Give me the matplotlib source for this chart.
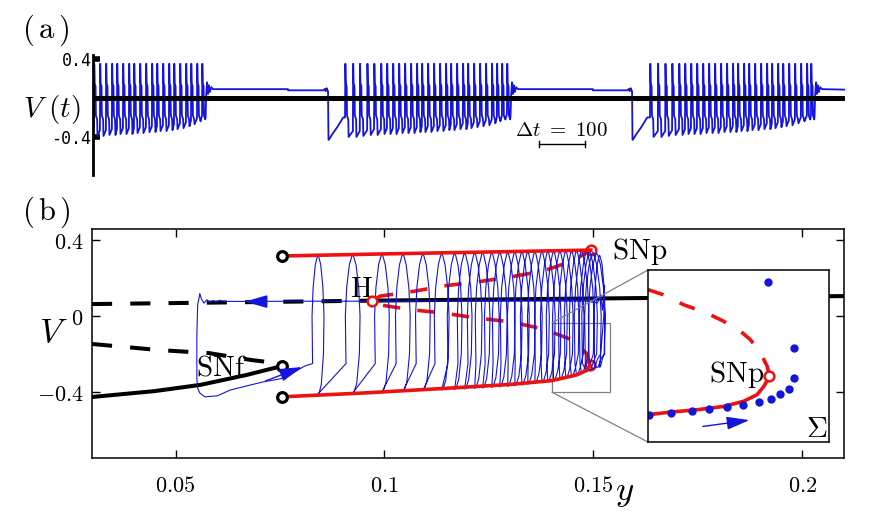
import numpy as np
import matplotlib.pyplot as plt
from mpl_toolkits.axes_grid1.inset_locator import mark_inset

plt.rcParams['mathtext.fontset'] = 'cm'
plt.rcParams['font.family'] = 'DejaVu Serif'

blue = '#1414dc'
red = '#ee1111'

# ---------------- (a) V(t): spike times and troughs of the three bursts
burst1_t = [2, 15, 28, 41, 52, 65, 78, 89, 102, 115, 128, 139, 152, 165, 176,
            189, 202, 213, 226, 237]
burst1_trough = [-0.39, -0.39, -0.38, -0.38, -0.37, -0.37, -0.37, -0.36, -0.36,
                 -0.35, -0.35, -0.34, -0.34, -0.33, -0.32, -0.31, -0.29, -0.27,
                 -0.24, -0.20]
burst2_t = [548, 565, 580, 596, 611, 626, 639, 652, 665, 678, 691, 704, 715, 728,
            741, 754, 767, 778, 791, 804, 815, 828, 841, 854, 867, 878, 889, 900]
burst3_t = [1211, 1228, 1244, 1259, 1274, 1287, 1300, 1313, 1326, 1339, 1352,
            1365, 1378, 1391, 1402, 1415, 1426, 1439, 1452, 1465, 1476, 1489,
            1500, 1513, 1526, 1539, 1552, 1561]
burst23_trough = [-0.40, -0.40, -0.39, -0.38, -0.38, -0.37, -0.37, -0.37, -0.36,
                  -0.36, -0.36, -0.35, -0.35, -0.35, -0.34, -0.34, -0.33, -0.33,
                  -0.32, -0.32, -0.31, -0.30, -0.29, -0.28, -0.26, -0.24, -0.22,
                  -0.19]
spike_peak_a = 0.35
# damped ringing after the last spike of a burst (offset from last spike)
ring_dt = [9, 11, 13, 15, 17, 20, 24]
ring_v = [0.02, 0.16, 0.04, 0.13, 0.06, 0.11, 0.09]
# quiescent levels, level step time and the drop that starts the next burst
quiet_high, quiet_low = 0.09, 0.078
step_t = [424, 1087]
drop_t = [511, 1172]
pre_dt = [-10, -7, -5, -3, -1]
pre_v = [0.078, 0.092, 0.07, 0.10, 0.075]
rec_dt = [0, 1, 3, 8, 20, 33]
rec_v = [0.07, -0.43, -0.42, -0.38, -0.30, -0.20]
t_end = 1635
scale_start, scale_len = 970, 100

# ---------------- (b) bifurcation diagram
lower_y = [0.030, 0.045, 0.056, 0.067, 0.0755]
lower_v = [-0.426, -0.395, -0.362, -0.31, -0.263]
middle_y = [0.030, 0.046, 0.058, 0.0683, 0.0733, 0.0755]
middle_v = [-0.147, -0.179, -0.195, -0.232, -0.245, -0.263]
upper_unst_y = [0.030, 0.097]
upper_unst_v = [0.063, 0.081]
upper_st_y = [0.097, 0.21]
upper_st_v = [0.081, 0.105]
po_max_y = [0.0755, 0.10, 0.125, 0.1494]
po_max_v = [0.316, 0.327, 0.337, 0.347]
po_min_y = [0.0755, 0.095, 0.115, 0.13, 0.14, 0.146, 0.1485, 0.1492]
po_min_v = [-0.425, -0.405, -0.38, -0.36, -0.34, -0.31, -0.285, -0.26]
upo_y = [0.1492, 0.1485, 0.145, 0.138, 0.130, 0.122, 0.114, 0.107, 0.099,
         0.097, 0.099, 0.107, 0.114, 0.122, 0.130, 0.138, 0.145, 0.1494]
upo_v = [-0.26, -0.20, -0.126, -0.068, -0.03, -0.01, 0.016, 0.032, 0.058,
         0.081, 0.105, 0.13, 0.158, 0.179, 0.205, 0.237, 0.29, 0.347]
black_pts_y = [0.0755, 0.0755, 0.0755]
black_pts_v = [0.316, -0.263, -0.425]
red_pts_y = [0.097, 0.1494, 0.1492]
red_pts_v = [0.081, 0.347, -0.26]

# trajectory: spikes of one burst (centre, peak, trough, loop half-width)
spike_y = [0.0841, 0.0924, 0.0994, 0.1044, 0.1092, 0.1137, 0.1168, 0.1192,
           0.1216, 0.1235, 0.1257, 0.1276, 0.1295, 0.1312, 0.1329, 0.1343,
           0.1360, 0.1377, 0.1391, 0.1405, 0.1420, 0.1434, 0.1448, 0.1460,
           0.1472, 0.1484, 0.1491, 0.1499, 0.1508, 0.1515]
spike_peak_b = [0.320, 0.322, 0.324, 0.326, 0.327, 0.329, 0.330, 0.331, 0.332,
                0.333, 0.334, 0.335, 0.335, 0.336, 0.337, 0.337, 0.338, 0.339,
                0.339, 0.340, 0.340, 0.341, 0.341, 0.342, 0.342, 0.343, 0.340,
                0.335, 0.330, 0.320]
spike_trough_b = [-0.410, -0.405, -0.400, -0.397, -0.393, -0.389, -0.386, -0.384,
                  -0.381, -0.379, -0.376, -0.373, -0.370, -0.367, -0.363, -0.359,
                  -0.355, -0.350, -0.345, -0.340, -0.335, -0.328, -0.320, -0.312,
                  -0.303, -0.293, -0.285, -0.278, -0.272, -0.270]
spike_hw = [0.0013, 0.0016, 0.0016, 0.0016, 0.0016, 0.0016, 0.0016, 0.0016,
            0.0016, 0.0016, 0.0016, 0.0016, 0.0016, 0.0016, 0.0016, 0.0016,
            0.0016, 0.0016, 0.0016, 0.0016, 0.0016, 0.0016, 0.0016, 0.0016,
            0.0016, 0.0016, 0.0017, 0.0018, 0.0018, 0.0012]
# quiescent wiggle, fall and slow passage along the lower branch
quiet_y = [0.0625, 0.0613, 0.0605, 0.0598, 0.059, 0.0582, 0.0575, 0.0568, 0.0562]
quiet_v = [0.077, 0.078, 0.083, 0.072, 0.082, 0.070, 0.086, 0.068, 0.09]
fall_y = [0.0558, 0.0553, 0.0551, 0.0551, 0.0553, 0.0558, 0.057, 0.060, 0.063,
          0.0675, 0.0709, 0.0761, 0.0809]
fall_v = [0.115, 0.06, -0.10, -0.33, -0.38, -0.405, -0.425, -0.42, -0.39,
          -0.365, -0.347, -0.326, -0.263]
exit_y = [0.1525, 0.1527, 0.1522, 0.1518, 0.151, 0.148, 0.13, 0.10, 0.08, 0.07, 0.0625]
exit_v = [0.0, 0.16, 0.03, 0.11, 0.07, 0.079, 0.079, 0.078, 0.078, 0.077, 0.077]

# inset (zoom near lower SNp)
in_dash_y = [0.1400, 0.14116, 0.14271, 0.14451, 0.1458, 0.14709, 0.14786,
             0.14864, 0.14915, 0.14933]
in_dash_v = [-0.0785, -0.089, -0.110, -0.128, -0.145, -0.166, -0.184, -0.212,
             -0.240, -0.261]
in_solid_y = [0.14933, 0.1489, 0.14838, 0.14735, 0.1458, 0.14374, 0.14168, 0.14013]
in_solid_v = [-0.261, -0.2825, -0.300, -0.314, -0.325, -0.332, -0.337, -0.342]
sec_y = [0.14923, 0.15121, 0.15121, 0.15083, 0.15013, 0.14941, 0.14851, 0.1473,
         0.14606, 0.14472, 0.14335, 0.14173, 0.14008]
sec_v = [-0.063, -0.2016, -0.265, -0.2874, -0.2987, -0.3085, -0.3149, -0.3212,
         -0.3261, -0.3311, -0.3353, -0.3395, -0.3437]


# ---------- build V(t)
def add_burst(ts, vs, times, troughs, start_v):
    prev = start_v
    for t0, d in zip(times, troughs):
        ts += [t0, t0 + 0.7, t0 + 1.6, t0 + 3.5, t0 + 4.3, t0 + 7.0, t0 + 7.8]
        vs += [prev, spike_peak_a, 0.15, 0.12, -0.18, -0.22, d]
        prev = d + 0.06
    ts += [times[-1] + dt for dt in ring_dt]
    vs += ring_v


ta, va = [0.0], [-0.30]
add_burst(ta, va, burst1_t, burst1_trough, -0.30)
for bt, st, dr in zip([burst2_t, burst3_t], step_t, drop_t):
    ta += [st, st]
    va += [quiet_high, quiet_low]
    ta += [dr + d for d in pre_dt] + [dr + d for d in rec_dt]
    va += pre_v + rec_v
    add_burst(ta, va, bt, burst23_trough, rec_v[-1])
ta.append(t_end)
va.append(0.085)

fig = plt.figure(figsize=(8.74, 5.23), dpi=100)

axa = fig.add_axes([93 / 874, 1 - 175 / 523, 752 / 874, 120 / 523])
axa.set_xlim(0, t_end)
axa.set_ylim(-0.79, 0.44)
for s in ['top', 'right', 'bottom']:
    axa.spines[s].set_visible(False)
axa.spines['left'].set_linewidth(2)
axa.axhline(0, color='k', lw=3.6, zorder=3)
axa.plot(ta, va, color=blue, lw=1.3, zorder=2)
axa.set_xticks([])
axa.set_yticks([-0.4, 0.4])
axa.set_yticklabels(['-0.4', '0.4'], family='DejaVu Sans Mono', fontsize=12)
axa.tick_params(axis='y', direction='in', length=5, width=4, pad=1)
axa.plot([scale_start, scale_start + scale_len], [-0.47, -0.47], color='k', lw=1)
axa.plot([scale_start, scale_start], [-0.44, -0.50], color='k', lw=1)
axa.plot([scale_start + scale_len] * 2, [-0.44, -0.50], color='k', lw=1)
axa.text(scale_start + scale_len / 2 - 2, -0.33, r'$\Delta t\ =\ 100$',
         ha='center', va='center', fontsize=15)
fig.text(52 / 874, 1 - 110 / 523, r'$V\ (t)$', ha='center', va='center', fontsize=21)
fig.text(45 / 874, 1 - 30 / 523, r'$(\,\mathrm{a}\,)$', ha='center', va='center',
         fontsize=22)

# ---------- (b)
axb = fig.add_axes([92 / 874, 1 - 458 / 523, 752 / 874, 229 / 523])
axb.set_xlim(0.03, 0.21)
axb.set_ylim(-0.747, 0.458)
axb.set_xticks([0.05, 0.1, 0.15, 0.2])
axb.set_xticklabels([r'$0.05$', r'$0.1$', r'$0.15$', r'$0.2$'], fontsize=16)
axb.set_yticks([-0.4, 0, 0.4])
axb.set_yticklabels([r'$-0.4$', r'$0$', r'$0.4$'], fontsize=16)
axb.tick_params(direction='in', top=True, right=True, length=6, width=1)
axb.tick_params(axis='x', pad=12)
axb.tick_params(axis='y', pad=6)
for s in axb.spines.values():
    s.set_linewidth(1.1)

axb.plot(lower_y, lower_v, color='k', lw=2.9, zorder=2)
axb.plot(middle_y, middle_v, color='k', lw=2.9, dashes=(5, 4.5), zorder=2)
axb.plot(upper_unst_y, upper_unst_v, color='k', lw=2.9, dashes=(5, 4.5), zorder=2)
axb.plot(upper_st_y, upper_st_v, color='k', lw=2.9, zorder=2)
axb.plot(upo_y, upo_v, color=red, lw=2.6, dashes=(4.8, 4.8), zorder=2.5)
axb.plot(red_pts_y[1:], red_pts_v[1:], 'o', ms=7, mfc='none', mec=red, mew=1.8, zorder=2.8)

# trajectory
by, bv = list(fall_y), list(fall_v)
for yc, p, d, hw in zip(spike_y, spike_peak_b, spike_trough_b, spike_hw):
    by += [yc - hw, yc - 1.1 * hw, yc - 0.9 * hw, yc - 0.5 * hw, yc - 0.15 * hw, yc,
           yc + 0.15 * hw, yc + 0.5 * hw, yc + 0.9 * hw, yc + 1.1 * hw, yc + hw,
           yc + 0.6 * hw, yc + 0.2 * hw, yc]
    bv += [-0.25, 0.0, 0.15, 0.27, p - 0.01, p, p - 0.01, 0.27, 0.15, 0.0, -0.2,
           d + 0.05, d + 0.005, d]
by += exit_y + quiet_y + fall_y[:1]
bv += exit_v + quiet_v + fall_v[:1]
axb.plot(by, bv, color=blue, lw=0.8, zorder=3)

axb.plot(po_max_y, po_max_v, color=red, lw=2.6, zorder=4)
axb.plot(po_min_y, po_min_v, color=red, lw=2.6, zorder=4)
axb.plot(red_pts_y[:1], red_pts_v[:1], 'o', ms=7, mfc='white', mec=red, mew=1.8, zorder=4)
axb.plot(black_pts_y, black_pts_v, 'o', ms=7, mfc='white', mec='k', mew=2.3, zorder=5)

arrow_style = '-|>,head_length=0.7,head_width=0.2'
axb.annotate('', xy=(0.0659, 0.076), xytext=(0.0712, 0.076),
             arrowprops=dict(arrowstyle=arrow_style, color=blue, lw=1,
                             mutation_scale=20), zorder=6)
axb.annotate('', xy=(fall_y[-1], fall_v[-1]), xytext=(fall_y[-3], fall_v[-3]),
             arrowprops=dict(arrowstyle=arrow_style, color=blue, lw=1,
                             mutation_scale=20), zorder=6)

axb.text(0.1544, 0.342, r'$\mathrm{SNp}$', ha='left', va='center', fontsize=21)
axb.text(0.0946, 0.142, r'$\mathrm{H}$', ha='center', va='center', fontsize=21)
axb.text(0.0609, -0.27, r'$\mathrm{SNf}$', ha='center', va='center', fontsize=21,
         zorder=1)
fig.text(53 / 874, 1 - 332 / 523, r'$V$', ha='center', va='center', fontsize=25)
fig.text(625 / 874, 1 - 492 / 523, r'$y$', ha='center', va='center', fontsize=25)
fig.text(46 / 874, 1 - 212 / 523, r'$(\,\mathrm{b}\,)$', ha='center', va='center',
         fontsize=22)

# inset
axi = fig.add_axes([648 / 874, 1 - 442 / 523, 181 / 874, 172 / 523])
axi.set_xlim(0.140, 0.1539)
axi.set_ylim(-0.40, -0.037)
axi.set_xticks([])
axi.set_yticks([])
for s in axi.spines.values():
    s.set_linewidth(1.1)
axi.plot(in_dash_y, in_dash_v, color=red, lw=2.6, dashes=(4.5, 5))
axi.plot(in_solid_y, in_solid_v, color=red, lw=2.6)
axi.plot(in_dash_y[-1:], in_dash_v[-1:], 'o', ms=7, mfc='white', mec=red, mew=1.8)
axi.plot(sec_y, sec_v, 'o', ms=5, color=blue, ls='none')
axi.annotate('', xy=(0.148, -0.353), xytext=(0.144, -0.368),
             arrowprops=dict(arrowstyle=arrow_style, color=blue, lw=1,
                             mutation_scale=20))
axi.text(0.49, 0.395, r'$\mathrm{SNp}$', transform=axi.transAxes, ha='center',
         va='center', fontsize=21)
axi.text(0.93, 0.075, r'$\Sigma$', transform=axi.transAxes, ha='center',
         va='center', fontsize=21)
mark_inset(axb, axi, loc1=2, loc2=3, fc='none', ec='0.5', lw=0.9)

fig.savefig('out.png', dpi=100)
